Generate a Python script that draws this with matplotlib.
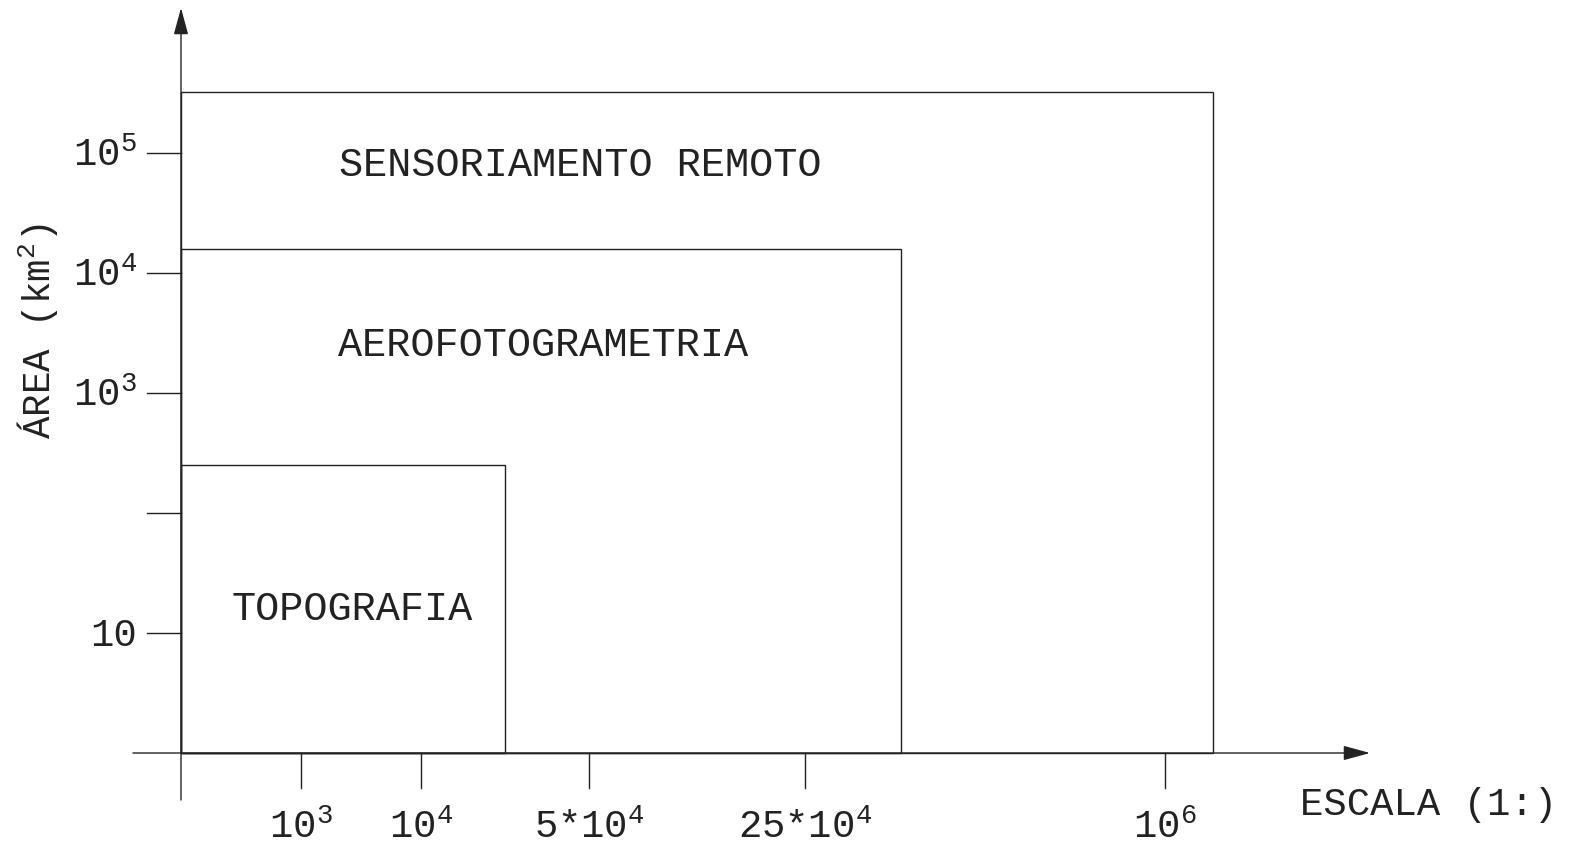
import matplotlib
matplotlib.use('Agg')
import matplotlib.pyplot as plt
from matplotlib.patches import Rectangle

plt.rcParams['font.family'] = ['Liberation Mono', 'DejaVu Sans Mono']
plt.rcParams['mathtext.default'] = 'regular'

# data
area_ticks = [10, 100, 1e3, 1e4, 1e5]
area_labels = ['10', '', '10$^3$', '10$^4$', '10$^5$']
escala_labels = ['10$^3$', '10$^4$', '5*10$^4$', '25*10$^4$', '10$^6$']
escala_pos = [1.0, 2.0, 3.4, 5.2, 8.2]   # schematic (not to scale) positions on x
methods = ['TOPOGRAFIA', 'AEROFOTOGRAMETRIA', 'SENSORIAMENTO REMOTO']
method_max_escala = [2.7, 6.0, 8.6]     # right edge of each box, same schematic units
method_max_area = [250, 16000, 320000]  # top of each box, km2

# where the names sit inside the boxes
label_x = [0.42, 1.31, 1.32]
label_y = [16, 2500, 80000]

# layout: 120 px per x unit / per decade, origin at pixel (181, 753)
W, H = 1570, 843
ox, oy, unit = 181, 753, 120

fig = plt.figure(figsize=(W / 100, H / 100), dpi=100)
ax = fig.add_axes([0, 0, 1, 1])
ax.set_axis_off()
ax.set_yscale('log')
ax.set_xlim(-ox / unit, (W - ox) / unit)
ax.set_ylim(10 ** (-(H - oy) / unit), 10 ** (oy / unit))

lc = '#222222'
lw = 1.0
fs = 28

# axes with arrows
arrow = dict(arrowstyle='-|>,head_length=0.55,head_width=0.15', mutation_scale=30,
             lw=lw, color=lc, shrinkA=0, shrinkB=0)
ax.annotate('', xy=(0, 10 ** (745 / unit)), xytext=(0, 10 ** (-47 / unit)), arrowprops=arrow)
ax.annotate('', xy=((1370 - ox) / unit, 1), xytext=(-48 / unit, 1), arrowprops=arrow)

# y ticks
for t, lab in zip(area_ticks, area_labels):
    ax.plot([-34 / unit, 0], [t, t], color=lc, lw=lw)
    ax.annotate(lab, xy=(-44 / unit, t), xytext=(0, -9), textcoords='offset points',
                ha='right', va='baseline', fontsize=fs, color=lc)

# x ticks
for p, lab in zip(escala_pos, escala_labels):
    ax.plot([p, p], [1, 10 ** (-35 / unit)], color=lc, lw=lw)
    ax.annotate(lab, xy=(p, 1), xytext=(0, -61), textcoords='offset points',
                ha='center', va='baseline', fontsize=fs, color=lc)

# boxes
for name, xr, ytop, tx, ty in zip(methods, method_max_escala, method_max_area, label_x, label_y):
    ax.add_patch(Rectangle((0, 1), xr, ytop - 1, fill=False, edgecolor=lc, lw=lw))
    ax.text(tx, ty, name, ha='left', va='center', fontsize=29, color=lc)

ax.annotate('ESCALA (1:)', xy=((1300 - ox) / unit, 1), xytext=(0, -44.5), textcoords='offset points',
            ha='left', va='baseline', fontsize=fs, color=lc)
fig.text(38 / W, 1 - 331 / H, 'ÁREA (km$^2$)', rotation=90, ha='center', va='center',
         fontsize=27, color=lc)

fig.savefig('out.png', dpi=100)
